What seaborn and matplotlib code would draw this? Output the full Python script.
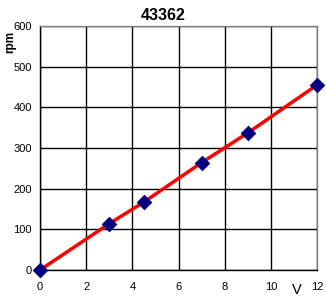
import matplotlib
matplotlib.use("Agg")
import matplotlib.pyplot as plt
import seaborn as sns
import pandas as pd

volts = [0, 3, 4.5, 7, 9, 12]
rpm = [0, 114, 167, 264, 337, 455]
x_ticks = [0, 2, 4, 6, 8, 10, 12]
y_ticks = [0, 100, 200, 300, 400, 500, 600]
title = "43362"

df = pd.DataFrame({"V": volts, "rpm": rpm})

sns.set_style("white")
plt.rcParams['font.family'] = ['Liberation Sans', 'DejaVu Sans']
plt.rcParams['text.color'] = 'black'
plt.rcParams['xtick.color'] = 'black'
plt.rcParams['ytick.color'] = 'black'
plt.rcParams['xtick.labelcolor'] = 'black'
plt.rcParams['ytick.labelcolor'] = 'black'

fig = plt.figure(figsize=(3.26, 3.0), dpi=100)
ax = fig.add_axes([40/326, 30/300, 277/326, 244/300])

sns.lineplot(data=df, x="V", y="rpm", ax=ax, color="#ff0000", linewidth=2.5, zorder=3)
sns.scatterplot(data=df, x="V", y="rpm", ax=ax, marker="D", s=55, color="#000080",
                edgecolor="#000080", zorder=4, clip_on=False)

ax.set_xlim(0, 12)
ax.set_ylim(0, 600)
ax.set_xticks(x_ticks)
ax.set_yticks(y_ticks)
ax.grid(True, color="black", linewidth=1)
ax.set_axisbelow(True)
for s in ["left", "bottom"]:
    ax.spines[s].set_color("black")
    ax.spines[s].set_linewidth(1)
for s in ["top", "right"]:
    ax.spines[s].set_color("#808080")
    ax.spines[s].set_linewidth(1)
ax.tick_params(axis="both", which="major", direction="out", length=4, width=1,
               color="black", labelcolor="black", labelsize=8, pad=2)
ax.tick_params(axis="x", pad=5)
ax.set_xlabel("")
ax.set_ylabel("")
fig.text(163/326, 1 - 15/300, title, ha="center", va="center", fontsize=11.5,
         fontweight="bold", color="black")
fig.text(10/326, 1 - 42/300, "rpm", ha="center", va="center", rotation=90,
         fontsize=8.5, fontweight="bold", color="black")
fig.text(297/326, 1 - 290/300, "V", ha="center", va="center", fontsize=10.5, color="black")

fig.savefig("out.png", dpi=100)
